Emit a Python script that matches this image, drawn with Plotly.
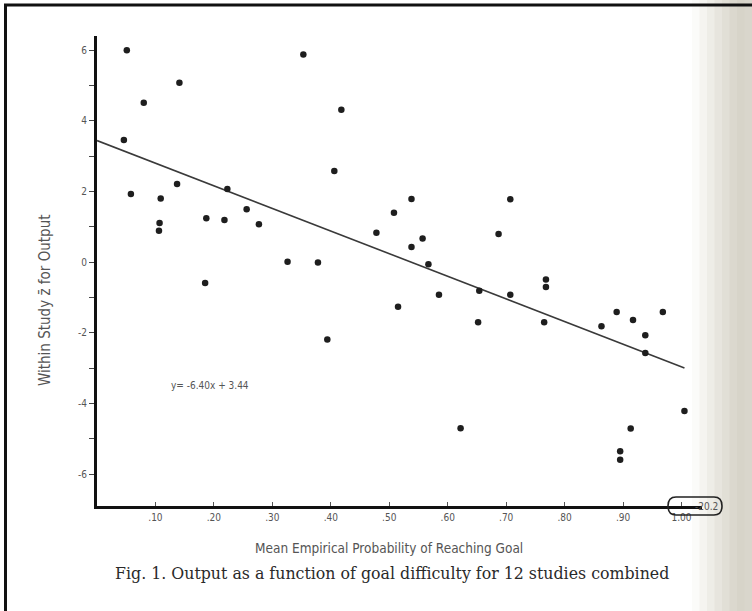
import plotly.graph_objects as go

# ---- data ----
prob = [0.051, 0.353, 0.141, 0.080, 0.418, 0.046, 0.406, 0.137, 0.058, 0.109,
        0.256, 0.187, 0.218, 0.107, 0.277, 0.106, 0.326, 0.378, 0.185, 0.394,
        0.538, 0.707, 0.508, 0.478, 0.687, 0.557, 0.538, 0.567, 0.768, 0.768,
        0.585, 0.707, 0.515, 0.652, 0.765, 0.622, 0.889, 0.968, 0.863, 0.917,
        0.938, 0.938, 1.005, 0.913, 0.895, 0.895, 0.223, 0.654]
zscore = [6.00, 5.88, 5.08, 4.51, 4.31, 3.46, 2.58, 2.21, 1.93, 1.80,
          1.50, 1.24, 1.19, 1.11, 1.07, 0.89, 0.01, -0.01, -0.59, -2.19,
          1.79, 1.78, 1.40, 0.83, 0.80, 0.67, 0.43, -0.06, -0.49, -0.70,
          -0.92, -0.92, -1.26, -1.70, -1.70, -4.70, -1.41, -1.41, -1.81, -1.64,
          -2.07, -2.57, -4.21, -4.71, -5.35, -5.59, 2.07, -0.81]
outlier_x = 1.00
outlier_y = -20.2
slope = -6.40
intercept = 3.44
fit_x = [0.0, 1.005]
xtick_vals = [0.1, 0.2, 0.3, 0.4, 0.5, 0.6, 0.7, 0.8, 0.9, 1.0]
xtick_text = [".10", ".20", ".30", ".40", ".50", ".60", ".70", ".80", ".90", "1.00"]
ytick_vals = [-6, -5, -4, -3, -2, -1, 0, 1, 2, 3, 4, 5, 6]
ytick_text = ["-6", "", "-4", "", "-2", "", "0", "", "2", "", "4", "", "6"]

W, H = 752, 611
ML, MR, MT, MB = 97, 50, 36, 105
PW, PH = W - ML - MR, H - MT - MB
XR = [0.0, 1.035]
YR = [-6.9, 6.4]


def px(x):
    return (x - ML) / PW


def py(y):
    return (H - MB - y) / PH


CONDENSED = "Liberation Sans Narrow, DejaVu Sans Condensed, Roboto Condensed, Arial Narrow, Roboto, sans-serif"

fig = go.Figure()

fig.add_trace(go.Scatter(
    x=fit_x, y=[intercept + slope * v for v in fit_x], mode="lines",
    line=dict(color="#3a3a3a", width=1.6), hoverinfo="skip", showlegend=False))

fig.add_trace(go.Scatter(
    x=prob, y=zscore, mode="markers",
    marker=dict(color="#1e1e1e", size=6.5), showlegend=False))

# out-of-range point pinned at the axis floor
fig.add_trace(go.Scatter(
    x=[outlier_x - 0.004, outlier_x + 0.008], y=[YR[0] - 0.05, YR[0] - 0.15], mode="markers",
    marker=dict(color="#1e1e1e", size=5), cliponaxis=False, showlegend=False))

shapes = []
# page shading at the right edge
shade = ["#fbfbf9", "#f5f4f0", "#eeede7", "#e7e5de", "#e1dfd6", "#dbd8ce", "#d7d4c9", "#d9d6cc"]
x0 = 692
step = (W - x0) / len(shade)
for i, c in enumerate(shade):
    shapes.append(dict(type="rect", xref="paper", yref="paper",
                       x0=px(x0 + i * step), x1=px(x0 + (i + 1) * step + 1),
                       y0=py(H), y1=py(0), fillcolor=c, line=dict(width=0), layer="below"))
# black frame lines (top and left)
shapes.append(dict(type="line", xref="paper", yref="paper",
                   x0=px(4), x1=px(W), y0=py(5), y1=py(5), line=dict(color="#111", width=3)))
shapes.append(dict(type="line", xref="paper", yref="paper",
                   x0=px(5.5), x1=px(5.5), y0=py(4), y1=py(H), line=dict(color="#111", width=3)))
# rounded box around the out-of-range value
shapes.append(dict(type="path", xref="paper", yref="paper",
                   path=(f"M {px(676)},{py(497)} L {px(714)},{py(497)} "
                         f"Q {px(722)},{py(497)} {px(722)},{py(506)} "
                         f"Q {px(722)},{py(515)} {px(714)},{py(515)} "
                         f"L {px(676)},{py(515)} "
                         f"Q {px(668)},{py(515)} {px(668)},{py(506)} "
                         f"Q {px(668)},{py(497)} {px(676)},{py(497)} Z"),
                   line=dict(color="#222", width=1.6)))

annotations = [
    dict(x=0.193, y=-3.48, xref="x", yref="y", text=f"y= {slope:.2f}x + {intercept:.2f}",
         showarrow=False, font=dict(family=CONDENSED, size=10, color="#555"), xanchor="center"),
    dict(x=px(706), y=py(506), xref="paper", yref="paper", text=f"{outlier_y}",
         xanchor="center", yanchor="middle",
         showarrow=False, font=dict(family=CONDENSED, size=10, color="#555")),
    dict(x=px(389), y=py(548), xref="paper", yref="paper",
         xanchor="center", yanchor="middle",
         text="Mean Empirical Probability of Reaching Goal", showarrow=False,
         font=dict(family=CONDENSED, size=13.5, color="#555")),
    dict(x=px(45), y=py(300), xref="paper", yref="paper",
         xanchor="center", yanchor="middle",
         text="Within Study z̄ for Output", showarrow=False, textangle=-90,
         font=dict(family=CONDENSED, size=15, color="#555")),
    dict(x=px(392), y=py(573), xref="paper", yref="paper",
         xanchor="center", yanchor="middle",
         text="Fig. 1. Output as a function of goal difficulty for 12 studies combined",
         showarrow=False,
         font=dict(family="DejaVu Serif, Liberation Serif, serif", size=15.8, color="#2a2a2a")),
]

fig.update_layout(
    width=W, height=H, margin=dict(l=ML, r=MR, t=MT, b=MB),
    paper_bgcolor="white", plot_bgcolor="white",
    shapes=shapes, annotations=annotations, showlegend=False,
    xaxis=dict(range=XR, showgrid=False, zeroline=False, showline=True,
               linecolor="#111", linewidth=3, ticks="inside", ticklen=4,
               tickwidth=1, tickcolor="#555", tickvals=xtick_vals, ticktext=xtick_text,
               tickfont=dict(family=CONDENSED, size=10, color="#555")),
    yaxis=dict(range=YR, showgrid=False, zeroline=False, showline=True,
               linecolor="#111", linewidth=3, ticks="outside", ticklen=5,
               tickwidth=1.2, tickcolor="#444", tickvals=ytick_vals, ticktext=ytick_text,
               tickfont=dict(family=CONDENSED, size=10, color="#555")),
)

fig.write_html("out.html", config={"displayModeBar": False},
               post_script="document.body.style.margin='0';document.body.style.padding='0';")
